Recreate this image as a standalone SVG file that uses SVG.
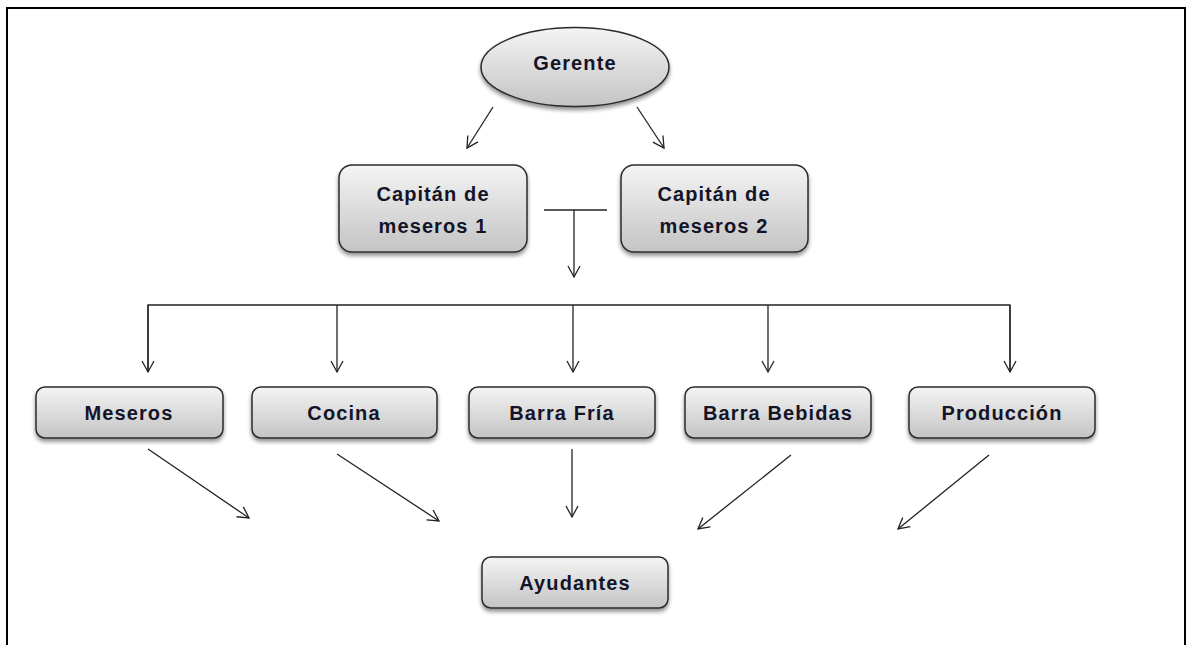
<svg xmlns="http://www.w3.org/2000/svg" width="1187" height="645" viewBox="0 0 1187 645">
<defs>
<linearGradient id="g" x1="0" y1="0" x2="0" y2="1">
<stop offset="0" stop-color="#f4f4f4"/>
<stop offset="1" stop-color="#c4c4c4"/>
</linearGradient>
<filter id="sh" x="-10%" y="-20%" width="120%" height="150%">
<feGaussianBlur in="SourceAlpha" stdDeviation="2"/>
<feOffset dx="0" dy="3" result="b"/>
<feComponentTransfer><feFuncA type="linear" slope="0.45"/></feComponentTransfer>
<feMerge><feMergeNode/><feMergeNode in="SourceGraphic"/></feMerge>
</filter>
<marker id="ah" markerWidth="14" markerHeight="14" refX="12" refY="7" orient="auto" markerUnits="userSpaceOnUse">
<path d="M1,1 L12,7 L1,13" fill="none" stroke="#222" stroke-width="1.3"/>
</marker>
</defs>
<style>
.box{fill:url(#g);stroke:#2b2b2b;stroke-width:1.5;filter:url(#sh)}
.t{font-family:"Liberation Sans",Arial,sans-serif;font-weight:bold;font-size:20px;letter-spacing:1.1px;fill:#141428;text-anchor:middle;dominant-baseline:central}
.c{fill:none;stroke:#222;stroke-width:1.3}
.a{marker-end:url(#ah)}
</style>
<rect x="7" y="8" width="1178" height="640" fill="#fff" stroke="#000" stroke-width="2"/>
<g id="connectors">
<line class="c a" x1="493" y1="107" x2="467" y2="148"/>
<line class="c a" x1="637" y1="107" x2="664" y2="148"/>
<line class="c" x1="544" y1="210" x2="607" y2="210"/>
<line class="c a" x1="574" y1="210" x2="574" y2="277"/>
<polyline class="c" points="148,372 148,305 1010,305 1010,372"/>
<line class="c a" x1="148" y1="305" x2="148" y2="372"/>
<line class="c a" x1="337" y1="305" x2="337" y2="372"/>
<line class="c a" x1="573" y1="305" x2="573" y2="372"/>
<line class="c a" x1="768" y1="305" x2="768" y2="372"/>
<line class="c a" x1="1010" y1="305" x2="1010" y2="372"/>
<line class="c a" x1="148" y1="449" x2="249" y2="518"/>
<line class="c a" x1="337" y1="454" x2="439" y2="521"/>
<line class="c a" x1="572" y1="449" x2="572" y2="517"/>
<line class="c a" x1="791" y1="455" x2="698" y2="529"/>
<line class="c a" x1="989" y1="455" x2="898" y2="529"/>
</g>
<g id="gerente">
<ellipse class="box" cx="575" cy="67" rx="94" ry="39.5"/>
<text class="t" x="575" y="63">Gerente</text>
</g>
<g id="capitan1">
<rect class="box" x="339" y="165" width="188" height="87" rx="13"/>
<text class="t" x="433" y="194">Capitán de</text>
<text class="t" x="433" y="226">meseros 1</text>
</g>
<g id="capitan2">
<rect class="box" x="621" y="165" width="187" height="87" rx="13"/>
<text class="t" x="714" y="194">Capitán de</text>
<text class="t" x="714" y="226">meseros 2</text>
</g>
<g id="meseros">
<rect class="box" x="36" y="387" width="187" height="51" rx="9"/>
<text class="t" x="129" y="413">Meseros</text>
</g>
<g id="cocina">
<rect class="box" x="252" y="387" width="185" height="51" rx="9"/>
<text class="t" x="344" y="413">Cocina</text>
</g>
<g id="barrafria">
<rect class="box" x="469" y="387" width="186" height="51" rx="9"/>
<text class="t" x="562" y="413">Barra Fría</text>
</g>
<g id="barrabebidas">
<rect class="box" x="685" y="387" width="186" height="51" rx="9"/>
<text class="t" x="778" y="413">Barra Bebidas</text>
</g>
<g id="produccion">
<rect class="box" x="909" y="387" width="186" height="51" rx="9"/>
<text class="t" x="1002" y="413">Producción</text>
</g>
<g id="ayudantes">
<rect class="box" x="482" y="557" width="186" height="51" rx="9"/>
<text class="t" x="575" y="583">Ayudantes</text>
</g>
</svg>
